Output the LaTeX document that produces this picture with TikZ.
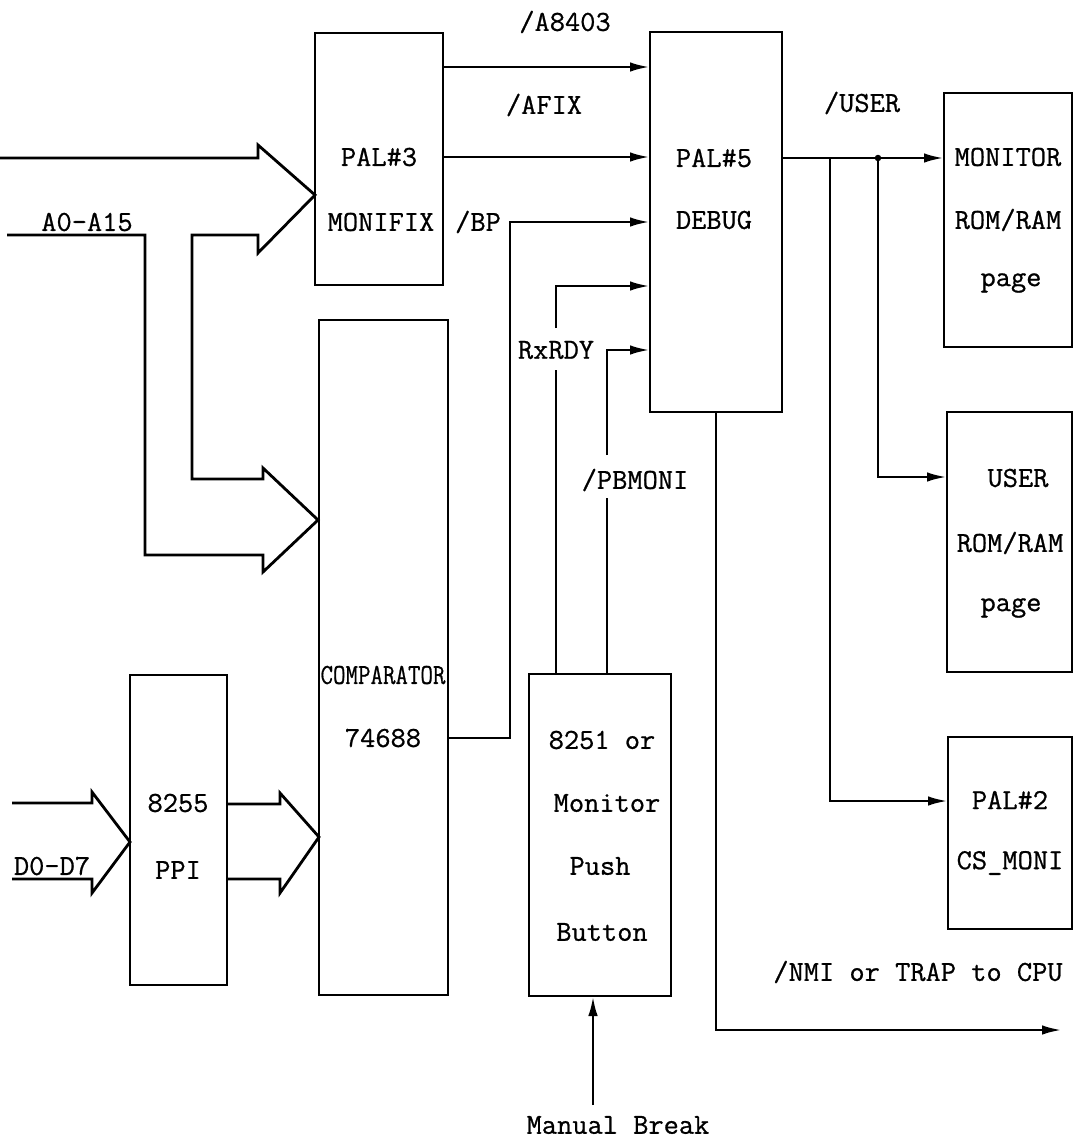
\documentclass[tikz,border=0pt]{standalone}
\usepackage{fontspec}
\usepackage{graphicx}
\setmonofont{Latin Modern Mono}[FakeStretch=1.02,FakeBold=0.8]
\usetikzlibrary{arrows.meta,fit}
\begin{document}
\begin{tikzpicture}[x=0.02cm,y=-0.02cm,line width=1.6pt,
  box/.style={draw,line width=1.6pt,inner sep=0pt,outer sep=0pt},
  lbl/.style={font=\ttfamily\fontsize{16.5}{19}\selectfont,inner sep=0pt},
  sig/.style={-{Latex[length=4mm,width=1.9mm]}},
  bus/.style={line width=1.6pt,line join=miter}]
\useasboundingbox (0,0) rectangle (1075,1140);
% boxes
\node[box,fit={(315,33) (443,285)}] (pal3) {};
\node[box,fit={(650,32) (782,412)}] (pal5) {};
\node[box,fit={(944,93) (1072,347)}] (mon) {};
\node[box,fit={(947,412) (1072,672)}] (usr) {};
\node[box,fit={(948,737) (1072,929)}] (pal2) {};
\node[box,fit={(319,320) (448,995)}] (cmp) {};
\node[box,fit={(130,675) (227,985)}] (ppi) {};
\node[box,fit={(529,674) (671,996)}] (b8251) {};
% box texts
\node[lbl] (t1) at (379,157) {PAL\#3};
\node[lbl] (t2) at (381,222) {MONIFIX};
\node[lbl] (t3) at (714,158) {PAL\#5};
\node[lbl] (t4) at (714,220) {DEBUG};
\node[lbl] (t5) at (1008,157) {MONITOR};
\node[lbl] (t6) at (1008,220) {ROM/RAM};
\node[lbl] (t7) at (1011,283) {page};
\node[lbl] (t8) at (1018,478) {USER};
\node[lbl] (t9) at (1010,543) {ROM/RAM};
\node[lbl] (t10) at (1011,608) {page};
\node[lbl] (t11) at (1010,800) {PAL\#2};
\node[lbl] (t12) at (1010,863) {CS\_MONI};
\node[lbl] (t13) at (383,675) {\scalebox{0.82}[1]{COMPARATOR}};
\node[lbl] (t14) at (383,738) {74688};
\node[lbl] (t15) at (178,803) {8255};
\node[lbl] (t16) at (178,870) {PPI};
\node[lbl] (t17) at (602,740) {8251 or};
\node[lbl] (t18) at (607,803) {Monitor};
\node[lbl] (t19) at (600,866) {Push};
\node[lbl] (t20) at (602,932) {Button};
% signal labels
\node[lbl] (l1) at (565,22) {/A8403};
\node[lbl] (l2) at (544,105) {/AFIX};
\node[lbl] (l3) at (478,222) {/BP};
\node[lbl] (l4) at (556,350) {RxRDY};
\node[lbl] (l5) at (635,480) {/PBMONI};
\node[lbl] (l6) at (862,103) {/USER};
\node[lbl] (l7) at (918,972) {/NMI or TRAP to CPU};
\node[lbl] (l8) at (618,1125) {Manual Break};
\node[lbl] (l9) at (87,222) {A0-A15};
\node[lbl] (l10) at (52,866) {D0-D7};
% connectors
\draw[sig] (pal3.east |- 0,67) -- (pal5.west |- 0,67);
\draw[sig] (pal3.east |- 0,157) -- (pal5.west |- 0,157);
\draw[sig] (cmp.east |- 0,738) -| (510,222) -- (pal5.west |- 0,222);
\draw (b8251.north -| 556,0) -- (556,370);
\draw[sig] (556,328) |- (pal5.west |- 0,286);
\draw (b8251.north -| 607,0) -- (607,498);
\draw[sig] (607,455) |- (pal5.west |- 0,350);
\draw[sig] (pal5.east |- 0,158) -- (mon.west |- 0,158);
\coordinate (j1) at (830,158);
\coordinate (j2) at (878,158);
\fill (j2) circle[radius=0.65mm];
\draw[sig] (j2) |- (usr.west |- 0,477);
\draw[sig] (j1) |- (pal2.west |- 0,801);
\coordinate (nmiend) at (1062,1030);
\draw[sig] (pal5.south -| 716,0) |- (nmiend);
\coordinate (mb) at (593,1105);
\draw[sig] (mb) -- (b8251.south -| mb);
% hollow bus arrows
\draw[bus] (0,158) -- (258,158) -- (258,145) -- (315,195) -- (258,253) -- (258,235) -- (192,235)
  -- (192,479) -- (263,479) -- (263,468) -- (318,520) -- (263,572) -- (263,555) -- (145,555)
  -- (145,235) -- (7,235);
\draw[bus] (12,803) -- (92,803) -- (92,792) -- (130,842) -- (92,893) -- (92,879) -- (12,879);
\draw[bus] (227,804) -- (280,804) -- (280,793) -- (319,837) -- (280,893) -- (280,879) -- (227,879);
\end{tikzpicture}
\end{document}
